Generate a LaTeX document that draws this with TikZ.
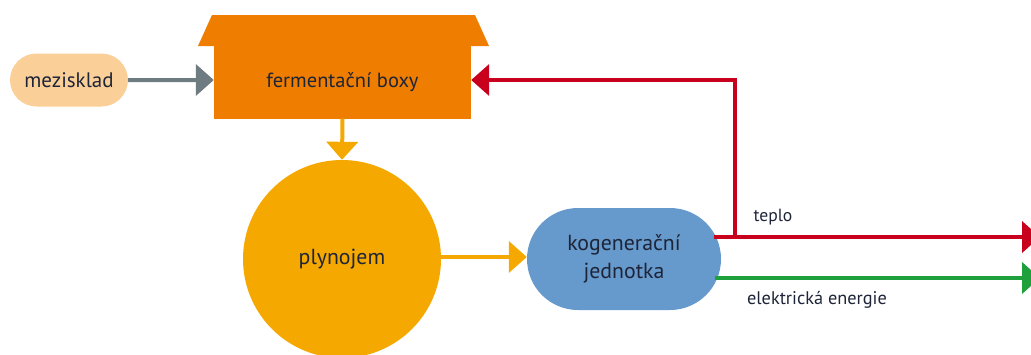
\documentclass[tikz,border=0pt]{standalone}
\usepackage{fontspec}
\setmainfont{PT Sans}
\usetikzlibrary{arrows.meta,calc,shapes.misc}
\definecolor{cPeach}{HTML}{FBCF98}
\definecolor{cOrange}{HTML}{EE7D00}
\definecolor{cYellow}{HTML}{F5A800}
\definecolor{cBlue}{HTML}{6699CC}
\definecolor{cRed}{HTML}{C8001E}
\definecolor{cGreen}{HTML}{1EA03C}
\definecolor{cGray}{HTML}{6E7B80}
\definecolor{cText}{HTML}{1E2538}
\tikzset{
  lbl/.style={text=cText, inner sep=0pt},
  flow/.style={line width=4pt, -{Triangle[length=18pt,width=31pt]}},
  pill/.style={rounded rectangle, inner sep=0pt, text=cText, align=center},
}
\begin{document}
\begin{tikzpicture}[x=1pt,y=-1pt]
\useasboundingbox (0,0) rectangle (1031,354);
\clip (0,0) rectangle (1031,354);
% mezisklad
\node[pill, fill=cPeach, minimum width=118pt, minimum height=53pt, font=\fontsize{21}{24}\selectfont] (mez) at (69,80) {mezisklad};
% fermentacni boxy
\fill[cOrange] (198,46) -- (212,15) -- (475,15) -- (489,46) -- cycle;
\node[fill=cOrange, minimum width=257pt, minimum height=73pt, inner sep=0pt, text=cText, font=\fontsize{20.5}{24}\selectfont] (ferm) at (342.5,82) {fermentační boxy};
% plynojem
\node[circle, fill=cYellow, minimum size=198pt, inner sep=0pt, text=cText, font=\fontsize{21.8}{24}\selectfont] (plyn) at (342,259) {plynojem};
% kogeneracni jednotka
\node[pill, fill=cBlue, minimum width=194pt, minimum height=102pt, font=\fontsize{21.8}{28}\selectfont] (kog) at (624,259) {kogenerační\\jednotka};
% coordinates
\coordinate (rs) at (714,237);
\coordinate (j) at (735,237);
\coordinate (jt) at (735,80);
\coordinate (rend) at (1040,237);
\coordinate (gs) at (715,278);
\coordinate (gend) at (1040,278);
% connectors
\draw[flow, cGray] (mez) -- (ferm.west |- mez);
\draw[flow, cYellow] (ferm.south) -- (plyn.north);
\draw[flow, cYellow] (plyn.east |- 0,257) -- (kog.west |- 0,257);
\draw[line width=4pt, cRed] (rs) -- (j);
\draw[flow, cRed] (j) -- (rend);
\draw[flow, cRed] ([yshift=2pt]j) -- (jt) -- (ferm.east |- jt);
\draw[flow, cGreen] (gs) -- (gend);
% labels
\node[lbl, font=\fontsize{17.6}{20}\selectfont] (teplo) at (773,217) {teplo};
\node[lbl, font=\fontsize{18.3}{21}\selectfont] (el) at (817,300) {elektrická energie};
\end{tikzpicture}
\end{document}
